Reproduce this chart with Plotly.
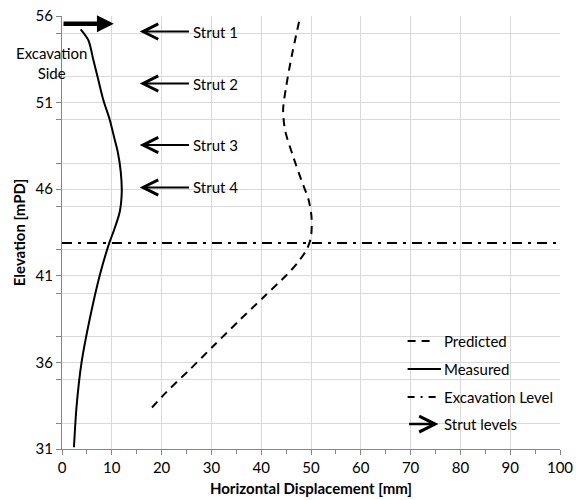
import plotly.graph_objects as go

# ---- data ----
measured_disp = [3.75, 5.3, 6.3, 7.3, 8.3, 9.6, 10.6, 11.2, 11.8, 12.0, 11.6, 10.4, 9.5, 7.6, 5.6, 3.95, 2.95, 2.4]
measured_elev = [55.23, 54.6, 53.46, 52.3, 51.15, 50.0, 48.84, 48.15, 47.0, 45.85, 44.7, 43.6, 42.9, 41.05, 38.55, 36.04, 33.54, 31.1]

predicted_disp = [47.6, 46.1, 45.0, 44.4, 44.8, 46.4, 48.1, 49.5, 50.1, 50.0, 49.2, 47.3, 45.1, 40.4, 35.7, 30.4, 25.7, 21.0, 17.3]
predicted_elev = [55.67, 53.65, 51.9, 50.57, 49.4, 47.9, 46.5, 45.4, 44.4, 43.25, 42.55, 41.75, 41.05, 39.75, 38.45, 36.95, 35.6, 34.3, 33.15]

excavation_level = 42.9
excavation_x = [0, 101]

strut_elev = [55.1, 52.1, 48.55, 46.1]
strut_labels = ["Strut 1", "Strut 2", "Strut 3", "Strut 4"]
strut_tail_x = 25.8
strut_head_x = 15.6

legend_labels = ["Predicted", "Measured", "Excavation Level", "Strut levels"]

FONT = "Lato, Carlito, 'Open Sans', sans-serif"

fig = go.Figure()

fig.add_trace(go.Scatter(x=predicted_disp, y=predicted_elev, mode="lines",
                         line=dict(color="black", width=2, dash="8px,6px", shape="spline", smoothing=0.8),
                         showlegend=False, hoverinfo="skip"))
fig.add_trace(go.Scatter(x=measured_disp, y=measured_elev, mode="lines",
                         line=dict(color="black", width=2, shape="spline", smoothing=0.8),
                         showlegend=False, hoverinfo="skip"))
fig.add_trace(go.Scatter(x=excavation_x, y=[excavation_level, excavation_level], mode="lines",
                         line=dict(color="black", width=2, dash="10px,6px,3px,6px"),
                         showlegend=False, hoverinfo="skip", cliponaxis=False))

annotations = []
# strut arrows
for e, lab in zip(strut_elev, strut_labels):
    annotations.append(dict(x=strut_head_x, y=e, ax=strut_tail_x, ay=e,
                            xref="x", yref="y", axref="x", ayref="y",
                            showarrow=True, arrowhead=5, arrowwidth=2, arrowsize=1.5,
                            arrowcolor="black", text=""))
    annotations.append(dict(x=strut_tail_x + 0.1, y=e, xref="x", yref="y",
                            text=lab, showarrow=False, xanchor="left", yanchor="middle",
                            font=dict(family=FONT, size=15, color="black")))

# excavation side arrow
annotations.append(dict(x=10.4, y=55.55, ax=0, ay=55.55,
                        xref="x", yref="y", axref="x", ayref="y",
                        showarrow=True, arrowhead=2, arrowwidth=4.5, arrowsize=0.75,
                        arrowcolor="black", text=""))
annotations.append(dict(x=-0.022, y=0.891, xref="paper", yref="paper",
                        text="Excavation<br>Side", showarrow=False, align="center",
                        xanchor="center", yanchor="middle",
                        font=dict(family=FONT, size=15, color="black")))

# legend (manual)
leg_y = [37.24, 35.62, 34.0, 32.44]
lx0, lx1, ltext = 69.4, 76.1, 76.3
shapes = []
shapes.append(dict(type="line", xref="x", yref="y", x0=lx0, x1=lx0 + 5.2, y0=leg_y[0], y1=leg_y[0],
                   line=dict(color="black", width=2, dash="8px,6px")))
shapes.append(dict(type="line", xref="x", yref="y", x0=lx0, x1=lx1, y0=leg_y[1], y1=leg_y[1],
                   line=dict(color="black", width=2)))
shapes.append(dict(type="line", xref="x", yref="y", x0=lx0, x1=lx1, y0=leg_y[2], y1=leg_y[2],
                   line=dict(color="black", width=2, dash="7px,6px,2px,6px")))
annotations.append(dict(x=lx1 - 0.5, y=leg_y[3], ax=lx0, ay=leg_y[3],
                        xref="x", yref="y", axref="x", ayref="y",
                        showarrow=True, arrowhead=5, arrowwidth=2.4, arrowsize=1.3,
                        arrowcolor="black", text=""))
for yy, lab in zip(leg_y, legend_labels):
    annotations.append(dict(x=ltext, y=yy, xref="x", yref="y", text=lab,
                            showarrow=False, xanchor="left", yanchor="middle",
                            font=dict(family=FONT, size=15, color="black")))

fig.update_layout(
    width=576, height=500,
    margin=dict(l=62, r=16, t=16, b=51, autoexpand=False),
    plot_bgcolor="white", paper_bgcolor="white",
    font=dict(family=FONT, size=14, color="black"),
    showlegend=False,
    annotations=annotations,
    shapes=shapes,
    xaxis=dict(range=[0, 100], tick0=0, dtick=10, showgrid=True, gridcolor="#d9d9d9", gridwidth=1,
               showline=True, linecolor="#868686", linewidth=1, ticks="outside", ticklen=5,
               tickcolor="#868686", zeroline=False, automargin=False,
               minor=dict(dtick=5, ticks="outside", ticklen=4, tickcolor="#868686", showgrid=False),
               title=dict(text="<b>Horizontal Displacement [mm]</b>", font=dict(family=FONT, size=15), standoff=8),
               tickfont=dict(family=FONT, size=15)),
    yaxis=dict(range=[31, 56], tick0=31, dtick=5, showgrid=True, gridcolor="#d9d9d9", gridwidth=1,
               showline=True, linecolor="#868686", linewidth=1, ticks="outside", ticklen=5,
               tickcolor="#868686", zeroline=False, automargin=False,
               minor=dict(dtick=2.5, ticks="outside", ticklen=5, tickcolor="#868686",
                          showgrid=True, gridcolor="#d9d9d9"),
               title=dict(text="<b>Elevation [mPD]</b>", font=dict(family=FONT, size=15), standoff=6),
               tickfont=dict(family=FONT, size=15)),
)

fig.write_html("out.html", config={"displayModeBar": False},
               post_script="document.body.style.margin='0';document.body.style.padding='0';")
